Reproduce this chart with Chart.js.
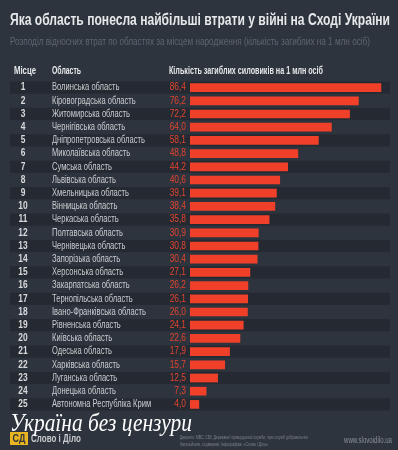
<!DOCTYPE html>
<html>
<head>
<meta charset="utf-8">
<script src="https://cdn.jsdelivr.net/npm/chart.js@4"></script>
<style>
  html, body { margin: 0; padding: 0; background: #2e343d; }
  canvas { display: block; }
</style>
</head>
<body>
<canvas id="lossChart" width="398" height="450"></canvas>
<script>
// Data
const ranks = ['1','2','3','4','5','6','7','8','9','10','11','12','13','14','15','16','17','18','19','20','21','22','23','24','25'];
const regions = [
    'Волинська область', 'Кіровоградська область', 'Житомирська область', 'Чернігівська область',
    'Дніпропетровська область', 'Миколаївська область', 'Сумська область', 'Львівська область',
    'Хмельницька область', 'Вінницька область', 'Черкаська область', 'Полтавська область',
    'Чернівецька область', 'Запорізька область', 'Херсонська область', 'Закарпатська область',
    'Тернопільська область', 'Івано-Франківська область', 'Рівненська область', 'Київська область',
    'Одеська область', 'Харківська область', 'Луганська область', 'Донецька область',
    'Автономна Республіка Крим'
];
const deaths = [86.4, 76.2, 72.2, 64.0, 58.1, 48.8, 44.2, 40.6, 39.1, 38.4, 35.8, 30.9, 30.8,
    30.4, 27.1, 26.2, 26.1, 26.0, 24.1, 22.6, 17.9, 15.7, 12.5, 7.3, 4.0];

const title = 'Яка область понесла найбільші втрати у війні на Сході України';
const subtitle = 'Розподіл відносних втрат по областях за місцем народження (кількість загиблих на 1 млн осіб)';
const headers = ['Місце', 'Область', 'Кількість загиблих силовиків на 1 млн осіб'];

const BG = '#2e343d';
const STRIPE = '#252a32';
const RED = '#f1402a';

// draw text squeezed horizontally; fitW = target width or k = fixed scale
function squeeze(ctx, s, x, y, font, color, align, opt) {
    ctx.save();
    ctx.font = font;
    ctx.fillStyle = color;
    ctx.textBaseline = 'middle';
    const w = ctx.measureText(s).width;
    const k = opt.fitW ? opt.fitW / w : opt.k;
    ctx.translate(x, y);
    ctx.scale(k, 1);
    ctx.textAlign = align;
    ctx.fillText(s, 0, 0);
    ctx.restore();
}

const tablePlugin = {
    id: 'tablePlugin',
    beforeDraw(chart) {
        const ctx = chart.ctx;
        ctx.save();
        ctx.fillStyle = BG;
        ctx.fillRect(0, 0, chart.width, chart.height);
        // row stripes on odd places
        const y = chart.scales.y;
        const step = chart.chartArea.height / regions.length;
        regions.forEach((r, i) => {
            if (i % 2 === 0) {
                ctx.fillStyle = STRIPE;
                ctx.fillRect(10, y.getPixelForValue(i) - step / 2 + 0.5, 380, step - 1);
            }
        });
        ctx.restore();
    },
    afterDraw(chart) {
        const ctx = chart.ctx;
        const y = chart.scales.y;
        const sans = '"Liberation Sans", Arial, sans-serif';

        squeeze(ctx, title, 10, 21, 'bold 16px ' + sans, '#e6e8ea', 'left', { fitW: 380 });
        squeeze(ctx, subtitle, 10, 42, '11px ' + sans, '#5e6570', 'left', { fitW: 360 });

        squeeze(ctx, headers[0], 14, 71, 'bold 10.5px ' + sans, '#e6e8ea', 'left', { fitW: 22 });
        squeeze(ctx, headers[1], 52, 71, 'bold 10.5px ' + sans, '#e6e8ea', 'left', { fitW: 29 });
        squeeze(ctx, headers[2], 169, 71, 'bold 10.5px ' + sans, '#e6e8ea', 'left', { fitW: 154 });

        regions.forEach((r, i) => {
            const py = y.getPixelForValue(i);
            squeeze(ctx, ranks[i], 23, py, 'bold 10.5px ' + sans, '#d8dadc', 'center', { k: 0.8 });
            squeeze(ctx, r, 52, py, '10.5px ' + sans, '#c9ccd0', 'left', { k: 0.72 });
            squeeze(ctx, deaths[i].toFixed(1).replace('.', ','), 186, py, '10.5px ' + sans, '#e2442f', 'right', { k: 0.8 });
        });

        // footer
        ctx.save();
        ctx.fillStyle = '#e8b521';
        ctx.fillRect(10, 432, 18, 13);
        ctx.restore();
        squeeze(ctx, 'СД', 19, 439, 'bold 10px ' + sans, '#2e343d', 'center', { k: 0.9 });
        squeeze(ctx, 'Слово і Діло', 31, 439, 'bold 10px ' + sans, '#c9ccd0', 'left', { k: 0.8 });
        squeeze(ctx, 'Джерело: МВС, СБУ, Державної прикордонної служби, прес-служб добровольчих', 180, 437, '6px ' + sans, '#7b818a', 'left', { fitW: 128 });
        squeeze(ctx, 'батальйонів, соцмережі. Інфографіка: «Слово і Діло»', 180, 444, '6px ' + sans, '#7b818a', 'left', { fitW: 88 });
        squeeze(ctx, 'www.slovoidilo.ua', 392, 441, '9px ' + sans, '#8a9098', 'right', { fitW: 48 });

        // watermark
        squeeze(ctx, 'Україна без цензури', 10, 424, 'italic 26px "Liberation Serif", serif', '#ffffff', 'left', { fitW: 182 });
    }
};

const ctx = document.getElementById('lossChart').getContext('2d');
new Chart(ctx, {
    type: 'bar',
    data: {
        labels: regions,
        datasets: [{
            data: deaths,
            backgroundColor: RED,
            borderWidth: 0,
            barThickness: 8
        }]
    },
    options: {
        indexAxis: 'y',
        responsive: false,
        animation: false,
        layout: { padding: { left: 190, right: 8, top: 81, bottom: 39 } },
        plugins: {
            legend: { display: false },
            tooltip: { enabled: false }
        },
        scales: {
            x: { display: false, min: 0, max: 90.5 },
            y: { display: false }
        }
    },
    plugins: [tablePlugin]
});
</script>
</body>
</html>
